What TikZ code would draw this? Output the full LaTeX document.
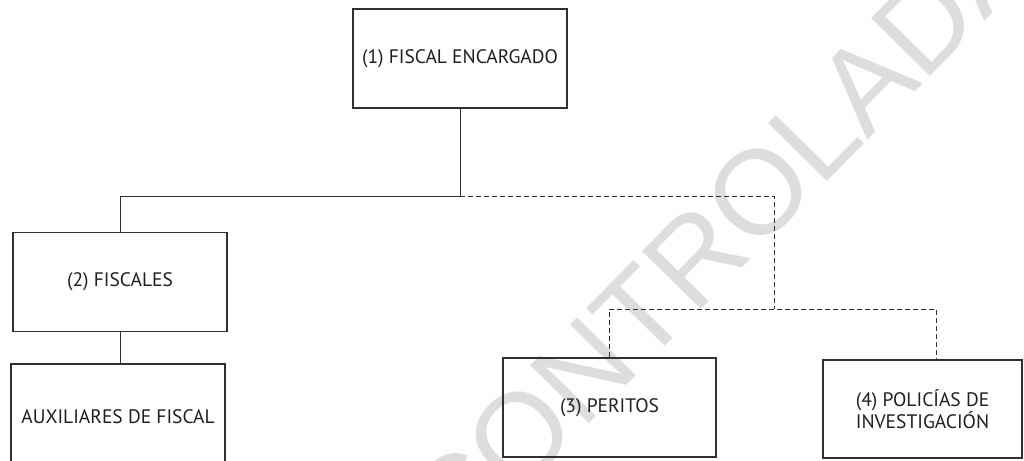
\documentclass[tikz,border=0pt]{standalone}
\usepackage{fontspec}
\usepackage{xcolor}
\setmainfont{PT Sans}
\newfontfamily\marcafont{Liberation Sans}
\definecolor{marcagris}{HTML}{DDDDDD}
\definecolor{borde}{HTML}{303030}

\begin{document}
\begin{tikzpicture}[x=1pt,y=-1pt]

        \tikzstyle{puesto}=[draw=borde,line width=1.3pt,minimum width=214pt,minimum height=99pt,inner sep=0pt,align=center,text=black!88,font=\fontsize{19.5}{17}\selectfont]
        \tikzstyle{mando}=[draw=borde,line width=1pt]
        \tikzstyle{apoyo}=[draw=borde,line width=1pt,dash pattern=on 5pt off 3pt]

        \useasboundingbox (0,0) rectangle (1024,460);
        \clip (0,0) rectangle (1024,460);

        %% marca de agua
        \node[rotate=45.5,anchor=base west,inner sep=0pt,text=marcagris,font=\fontsize{120}{120}\selectfont\marcafont] (marca) at (456,559) {CONTROLADA};

        %% puestos
        \node[puesto] (encargado) at (460,58.5) {(1) FISCAL ENCARGADO};
        \node[puesto] (fiscales) at (120,282) {(2) FISCALES};
        \node[puesto,minimum height=106pt] (auxiliares) at (118,417) {AUXILIARES DE FISCAL};
        \node[puesto,minimum width=213pt] (peritos) at (609.5,407.5) {(3) PERITOS};
        \node[puesto,minimum width=199pt,minimum height=98pt] (policias) at (922.5,409) {(4) POLIC\'IAS DE\\INVESTIGACI\'ON};

        %% puntos de reparto
        \coordinate (nudo) at (460,196);
        \coordinate (reparto) at (774,309);
        \coordinate (ramal) at (936,309);

        %% lineas
        \draw[mando] (encargado.south) -- (nudo) -| (fiscales.north);
        \draw[mando] (fiscales.south) -- (fiscales.south |- auxiliares.north);
        \draw[apoyo] (nudo) -| (reparto);
        \draw[apoyo] (peritos.north) |- (ramal) -- (ramal |- policias.north);

\end{tikzpicture}
\end{document}
